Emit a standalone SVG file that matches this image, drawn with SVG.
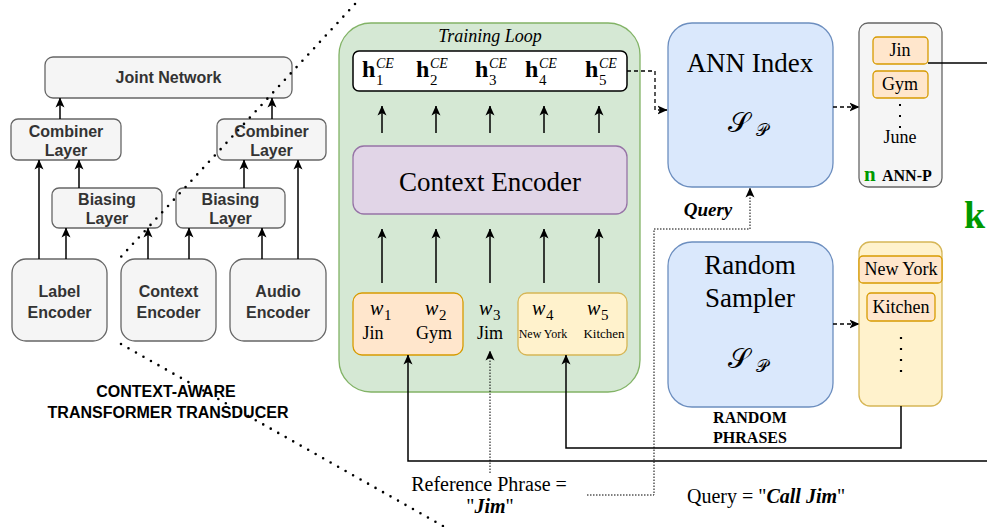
<svg xmlns="http://www.w3.org/2000/svg" width="987" height="527" viewBox="0 0 987 527">
<defs>
<marker id="ah" viewBox="0 0 10 10" refX="9.5" refY="5" markerWidth="10" markerHeight="10" markerUnits="userSpaceOnUse" orient="auto">
<path d="M0,0.5 L10,5 L0,9.5 L2.5,5 z" fill="#000"/>
</marker>
</defs>
<style>
.lb{fill:#f5f5f5;stroke:#666;stroke-width:1.3}
.lt{font-family:"Liberation Sans",Arial,sans-serif;font-weight:bold;font-size:16px;fill:#333;text-anchor:middle}
.ct{font-family:"Liberation Sans",Arial,sans-serif;font-weight:bold;font-size:16px;fill:#000;text-anchor:middle}
.ln{stroke:#000;stroke-width:1.5;fill:none}
.arr{marker-end:url(#ah)}
.dash{stroke:#000;stroke-width:1.3;fill:none;stroke-dasharray:4 3}
.fdot{stroke:#000;stroke-width:1;fill:none;stroke-dasharray:1.5 1.5}
.bigdot{stroke:#000;stroke-width:2.6;fill:none;stroke-dasharray:0 8.6;stroke-linecap:round}
.sr{font-family:"Liberation Serif","Times New Roman",serif;fill:#000}
.gr{font-family:"Liberation Serif","Times New Roman",serif;font-weight:bold;fill:#009900}
.mid{text-anchor:middle}
.hb{font-family:"Liberation Serif","Times New Roman",serif;font-weight:bold;font-size:24px}
.sup{font-family:"Liberation Serif","Times New Roman",serif;font-style:italic;font-size:14px}
.sub{font-family:"Liberation Serif","Times New Roman",serif;font-size:15px}
.wi{font-family:"Liberation Serif","Times New Roman",serif;font-style:italic;font-size:20px}
.cal{font-family:"DejaVu Serif","Liberation Serif",serif;fill:#000}
.or{fill:#ffe6cc;stroke:#d79b00;stroke-width:1.3}
.ye{fill:#fff2cc;stroke:#d6b656;stroke-width:1.3}
.bl{fill:#dae8fc;stroke:#6c8ebf;stroke-width:1.3}
</style>

<!-- Left: context-aware transformer transducer -->
<g id="joint-network"><rect class="lb" x="45" y="57" width="247" height="41" rx="8"/><text class="lt" x="168.5" y="83">Joint Network</text></g>
<g id="combiner-left"><rect class="lb" x="11" y="119" width="110" height="41" rx="7"/><text class="lt" x="66" y="137">Combiner</text><text class="lt" x="66" y="156">Layer</text></g>
<g id="combiner-right"><rect class="lb" x="217" y="119" width="109" height="41" rx="7"/><text class="lt" x="271.5" y="137">Combiner</text><text class="lt" x="271.5" y="156">Layer</text></g>
<g id="biasing-left"><rect class="lb" x="52" y="188" width="110" height="40" rx="7"/><text class="lt" x="107" y="205">Biasing</text><text class="lt" x="107" y="224">Layer</text></g>
<g id="biasing-right"><rect class="lb" x="176" y="188" width="109" height="40" rx="7"/><text class="lt" x="230.5" y="205">Biasing</text><text class="lt" x="230.5" y="224">Layer</text></g>
<g id="label-encoder"><rect class="lb" x="12" y="259" width="95" height="82" rx="14"/><text class="lt" x="59.5" y="297">Label</text><text class="lt" x="59.5" y="318">Encoder</text></g>
<g id="context-encoder-small"><rect class="lb" x="121" y="259" width="95" height="82" rx="14"/><text class="lt" x="168.5" y="297">Context</text><text class="lt" x="168.5" y="318">Encoder</text></g>
<g id="audio-encoder"><rect class="lb" x="230" y="259" width="96" height="82" rx="14"/><text class="lt" x="278" y="297">Audio</text><text class="lt" x="278" y="318">Encoder</text></g>
<g id="cat-title"><text class="ct" x="166" y="397">CONTEXT-AWARE</text><text class="ct" x="168" y="418">TRANSFORMER TRANSDUCER</text></g>

<!-- Training loop -->
<g id="training-loop"><rect x="339" y="23" width="301" height="369" rx="32" fill="#d5e8d4" stroke="#82b366" stroke-width="1.3"/><text class="sr mid" x="490" y="42" font-style="italic" font-size="18">Training Loop</text></g>
<g id="h-vector"><rect x="353" y="51" width="274" height="40" rx="6" fill="#fff" stroke="#000" stroke-width="1.5"/>
<text class="hb" x="362" y="77">h</text><text class="sup" x="376" y="68">CE</text><text class="sub" x="376" y="85">1</text>
<text class="hb" x="416" y="77">h</text><text class="sup" x="430" y="68">CE</text><text class="sub" x="430" y="85">2</text>
<text class="hb" x="475" y="77">h</text><text class="sup" x="489" y="68">CE</text><text class="sub" x="489" y="85">3</text>
<text class="hb" x="525" y="77">h</text><text class="sup" x="539" y="68">CE</text><text class="sub" x="539" y="85">4</text>
<text class="hb" x="585" y="77">h</text><text class="sup" x="599" y="68">CE</text><text class="sub" x="599" y="85">5</text>
</g>
<g id="context-encoder"><rect x="353" y="146" width="274" height="68" rx="11" fill="#e1d5e7" stroke="#9673a6" stroke-width="1.3"/><text class="sr mid" x="490" y="191" font-size="27">Context Encoder</text></g>
<g id="phrases-w12"><rect class="or" x="353" y="293" width="110" height="62" rx="9"/>
<text class="wi" x="370" y="315">w</text><text class="sub" x="384" y="320">1</text>
<text class="wi" x="425" y="315">w</text><text class="sub" x="439" y="320">2</text>
<text class="sr mid" x="373" y="339" font-size="18">Jin</text><text class="sr mid" x="434" y="339" font-size="18">Gym</text></g>
<g id="phrase-w3"><text class="wi" x="479" y="315">w</text><text class="sub" x="493" y="320">3</text><text class="sr mid" x="490" y="339" font-size="18">Jim</text></g>
<g id="phrases-w45"><rect class="ye" x="518" y="293" width="109" height="62" rx="9"/>
<text class="wi" x="532" y="315">w</text><text class="sub" x="546" y="320">4</text>
<text class="wi" x="587" y="315">w</text><text class="sub" x="601" y="320">5</text>
<text class="sr mid" x="543" y="338" font-size="12">New York</text><text class="sr mid" x="604" y="338" font-size="13">Kitchen</text></g>

<!-- ANN index -->
<g id="ann-index"><rect class="bl" x="668" y="23" width="165" height="164" rx="24"/><text class="sr mid" x="750" y="72" font-size="27">ANN Index</text>
<text class="cal" x="728" y="132" font-size="28">𝒮</text><text class="cal" x="756" y="136" font-size="17">𝒫</text></g>
<g id="ann-p"><rect x="859" y="23" width="83" height="164" rx="9" fill="#f5f5f5" stroke="#666" stroke-width="1.3"/>
<rect class="or" x="873" y="37" width="55" height="27" rx="4"/><text class="sr mid" x="900" y="56" font-size="18">Jin</text>
<rect class="or" x="873" y="71" width="55" height="27" rx="4"/><text class="sr mid" x="900" y="90" font-size="18">Gym</text>
<line x1="900" y1="104" x2="900" y2="131" stroke="#000" stroke-width="2" stroke-dasharray="2 9"/>
<text class="sr mid" x="900" y="143" font-size="18">June</text>
<text class="gr" x="864" y="181" font-size="21">n</text><text class="sr" x="882" y="181" font-size="16" font-weight="bold">ANN-P</text></g>
<g id="k-label"><text class="gr" x="964" y="228" font-size="38">k</text></g>

<!-- Random sampler -->
<g id="random-sampler"><rect class="bl" x="668" y="242" width="165" height="165" rx="24"/><text class="sr mid" x="750" y="274" font-size="27">Random</text><text class="sr mid" x="750" y="307" font-size="27">Sampler</text>
<text class="cal" x="728" y="368" font-size="28">𝒮</text><text class="cal" x="756" y="372" font-size="17">𝒫</text></g>
<g id="random-phrases"><rect class="ye" x="859" y="242" width="83" height="164" rx="11"/>
<rect class="or" x="859" y="256" width="83" height="27" rx="4"/><text class="sr mid" x="901" y="275" font-size="18">New York</text>
<rect class="or" x="867" y="293" width="68" height="28" rx="4"/><text class="sr mid" x="901" y="313" font-size="18">Kitchen</text>
<line x1="901" y1="337" x2="901" y2="381" stroke="#000" stroke-width="2.2" stroke-dasharray="2 9"/></g>
<g id="random-title"><text class="sr mid" x="750" y="423" font-size="16" font-weight="bold">RANDOM</text><text class="sr mid" x="750" y="443" font-size="16" font-weight="bold">PHRASES</text></g>

<!-- bottom texts -->
<g id="reference-phrase"><text class="sr mid" x="489" y="491" font-size="20">Reference Phrase =</text><text class="sr mid" x="490" y="513" font-size="20">"<tspan font-weight="bold" font-style="italic">Jim</tspan>"</text></g>
<g id="query-text"><text class="sr" x="687" y="503" font-size="20">Query = "<tspan font-weight="bold" font-style="italic">Call Jim</tspan>"</text></g>
<g id="query-label"><text class="sr mid" x="708" y="216" font-size="19" font-weight="bold" font-style="italic">Query</text></g>

<!-- connectors -->
<g id="connectors">
<line class="ln arr" x1="60" y1="119" x2="60" y2="98"/>
<line class="ln arr" x1="272" y1="119" x2="272" y2="98"/>
<line class="ln arr" x1="39" y1="259" x2="39" y2="160"/>
<line class="ln arr" x1="79" y1="188" x2="79" y2="160"/>
<line class="ln arr" x1="244" y1="188" x2="244" y2="160"/>
<line class="ln arr" x1="298" y1="259" x2="298" y2="160"/>
<line class="ln arr" x1="66" y1="259" x2="66" y2="228"/>
<line class="ln arr" x1="148" y1="259" x2="148" y2="228"/>
<line class="ln arr" x1="189" y1="259" x2="189" y2="228"/>
<line class="ln arr" x1="262" y1="259" x2="262" y2="228"/>

<line class="ln arr" x1="382" y1="133" x2="382" y2="106"/>
<line class="ln arr" x1="436" y1="133" x2="436" y2="106"/>
<line class="ln arr" x1="490" y1="133" x2="490" y2="106"/>
<line class="ln arr" x1="544" y1="133" x2="544" y2="106"/>
<line class="ln arr" x1="599" y1="133" x2="599" y2="106"/>
<line class="ln arr" x1="382" y1="283" x2="382" y2="229"/>
<line class="ln arr" x1="436" y1="283" x2="436" y2="229"/>
<line class="ln arr" x1="490" y1="283" x2="490" y2="229"/>
<line class="ln arr" x1="544" y1="283" x2="544" y2="229"/>
<line class="ln arr" x1="599" y1="283" x2="599" y2="229"/>

<path class="ln arr" d="M928,63 H995 V461 H408 V355"/>
<path class="ln arr" d="M901,406 V448 H566 V355"/>
<path class="fdot arr" d="M490,473 V351"/>
<path class="fdot arr" d="M587,495 H654 V229 H750 V188"/>
<path class="dash arr" d="M627,71 H655 V110 H667"/>
<path class="dash arr" d="M833,107 H859"/>
<path class="dash arr" d="M833,324 H859"/>

<line class="bigdot" x1="355" y1="4" x2="118" y2="260"/>
<line class="bigdot" x1="121" y1="344" x2="450" y2="530"/>
</g>
</svg>
